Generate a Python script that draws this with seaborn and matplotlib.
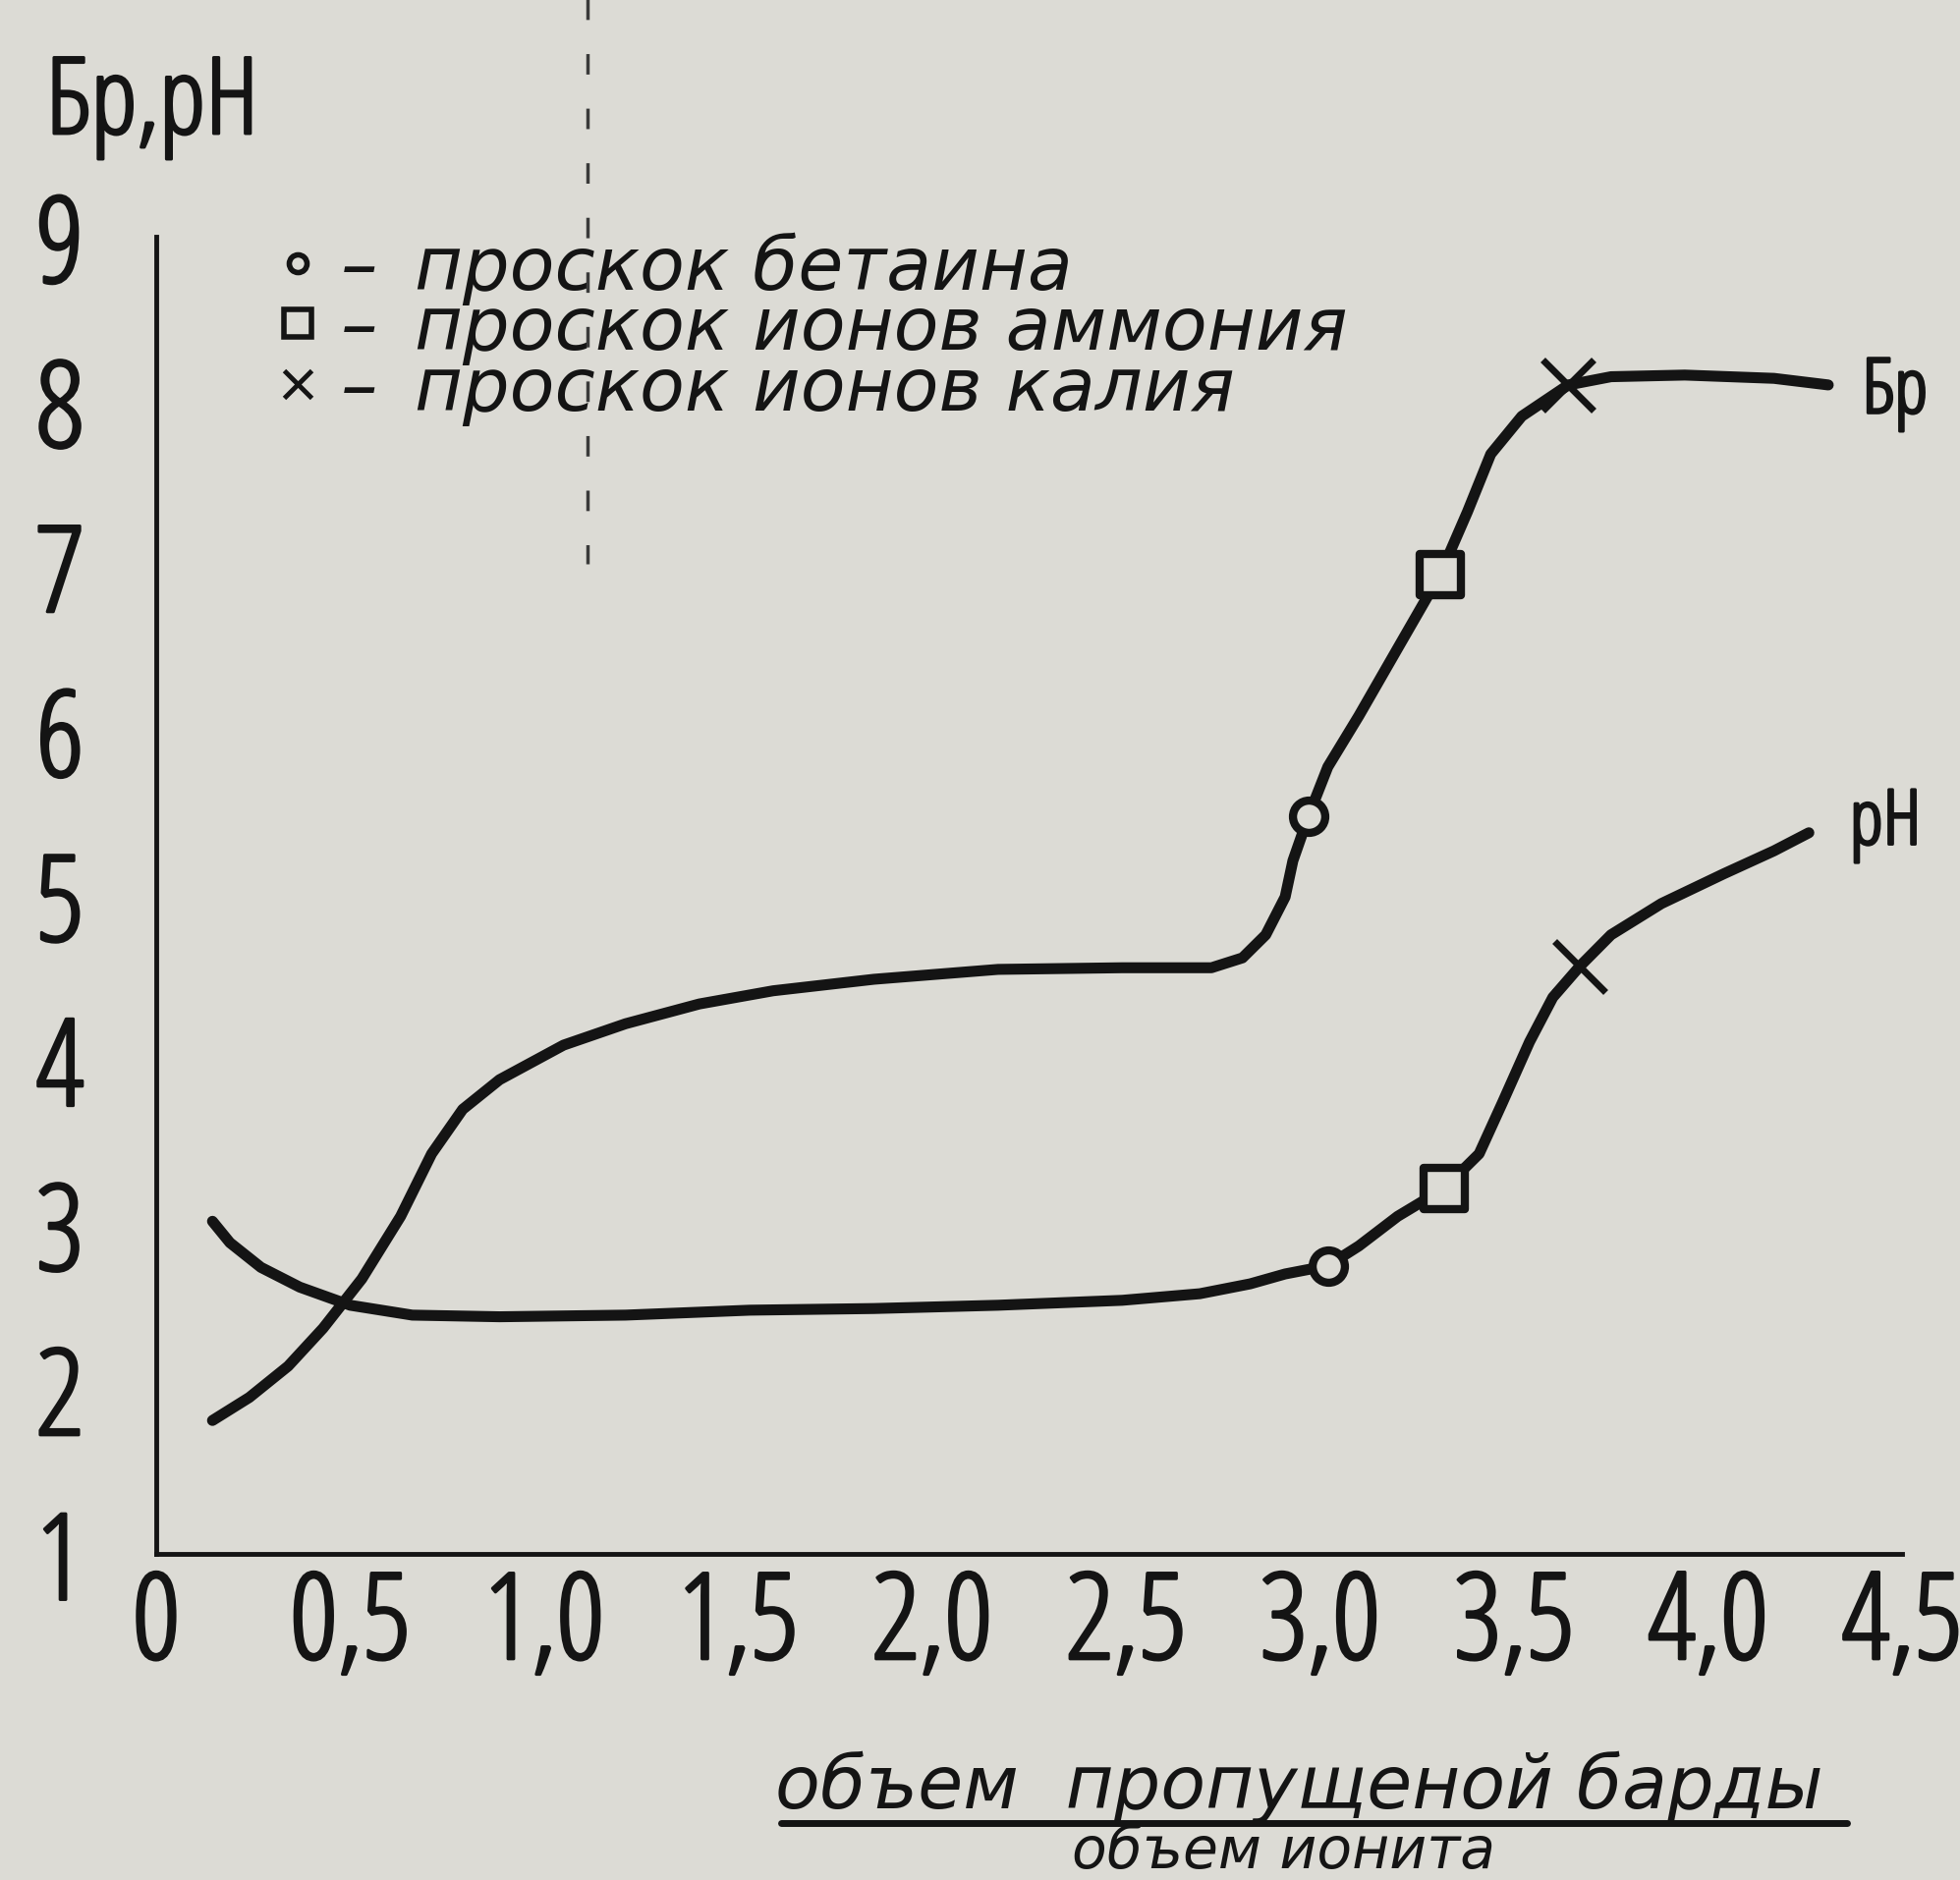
import matplotlib
matplotlib.use("Agg")
import matplotlib.pyplot as plt
import matplotlib.patheffects as pe
from matplotlib.lines import Line2D
from matplotlib.font_manager import FontProperties
import seaborn as sns
import pandas as pd

# ---------------- data ----------------
br_x = [0.145, 0.24, 0.34, 0.43, 0.53, 0.63, 0.71, 0.79, 0.885, 1.05, 1.21, 1.40, 1.59, 1.85,
        2.17, 2.49, 2.72, 2.80, 2.86, 2.91, 2.93, 2.97, 3.02, 3.10, 3.20, 3.31, 3.38, 3.44,
        3.52, 3.64, 3.75, 3.94, 4.17, 4.31]
br_y = [1.81, 1.95, 2.14, 2.37, 2.67, 3.05, 3.43, 3.70, 3.88, 4.09, 4.22, 4.34, 4.42, 4.49,
        4.55, 4.56, 4.56, 4.62, 4.76, 4.99, 5.21, 5.48, 5.78, 6.09, 6.50, 6.95, 7.33, 7.68,
        7.91, 8.10, 8.15, 8.16, 8.14, 8.10]

ph_x = [0.145, 0.19, 0.27, 0.37, 0.50, 0.66, 0.885, 1.21, 1.53, 1.85, 2.17, 2.49, 2.69, 2.82,
        2.91, 3.02, 3.10, 3.20, 3.32, 3.41, 3.47, 3.54, 3.60, 3.67, 3.75, 3.88, 4.04, 4.17, 4.26]
ph_y = [3.02, 2.89, 2.74, 2.62, 2.51, 2.45, 2.44, 2.45, 2.48, 2.49, 2.51, 2.54, 2.58, 2.64,
        2.70, 2.75, 2.87, 3.05, 3.22, 3.43, 3.74, 4.11, 4.38, 4.57, 4.76, 4.95, 5.13, 5.27, 5.38]

# breakthrough points: betaine (o), ammonium (square), potassium (x)
br_marker_x = [2.97, 3.31, 3.64]
br_marker_y = [5.48, 6.95, 8.10]
ph_marker_x = [3.02, 3.32, 3.67]
ph_marker_y = [2.75, 3.22, 4.57]
marker_kinds = ["бетаина", "аммония", "калия"]

x_ticks = [0, 0.5, 1.0, 1.5, 2.0, 2.5, 3.0, 3.5, 4.0, 4.5]
x_tick_labels = ["0", "0,5", "1,0", "1,5", "2,0", "2,5", "3,0", "3,5", "4,0", "4,5"]
y_ticks = [1, 2, 3, 4, 5, 6, 7, 8, 9]
y_tick_labels = ["1", "2", "3", "4", "5", "6", "7", "8", "9"]

legend_labels = ["–\u2002проскок бетаина", "–\u2002проскок ионов аммония",
                 "–\u2002проскок ионов калия"]

# ---------------- style ----------------
PAPER = "#dcdbd5"
INK = "#141414"
sns.set_theme(style="white")
plt.rcParams["font.family"] = ["Open Sans", "DejaVu Sans"]
plt.rcParams["axes.facecolor"] = PAPER
plt.rcParams["figure.facecolor"] = PAPER

COND = dict(family="Open Sans", stretch="condensed", weight="light")
ITAL = dict(family="DejaVu Sans", style="italic")
THICK = [pe.withStroke(linewidth=2.2, foreground=INK)]

fig = plt.figure(figsize=(19.95, 19.15), dpi=100)
ax = fig.add_axes([0.0797, 0.1734, 0.8907, 0.7002])
ax.set_facecolor(PAPER)

df_br = pd.DataFrame({"x": br_x, "y": br_y})
df_ph = pd.DataFrame({"x": ph_x, "y": ph_y})
for d in (df_br, df_ph):
    sns.lineplot(data=d, x="x", y="y", sort=False, estimator=None, color=INK,
                 linewidth=8, ax=ax, solid_capstyle="round", solid_joinstyle="round")

mk = {"бетаина": "o", "аммония": "s", "калия": "x"}
sizes = {"бетаина": 560, "аммония": 900, "калия": 1400}
for xs, ys in [(br_marker_x, br_marker_y), (ph_marker_x, ph_marker_y)]:
    for xv, yv, kind in zip(xs, ys, marker_kinds):
        d = pd.DataFrame({"x": [xv], "y": [yv]})
        if kind == "калия":
            sns.scatterplot(data=d, x="x", y="y", marker="x", s=sizes[kind], color=INK,
                            linewidth=5, ax=ax, zorder=5)
        else:
            sns.scatterplot(data=d, x="x", y="y", marker=mk[kind], s=sizes[kind],
                            facecolor=PAPER, edgecolor=INK, linewidth=6, ax=ax, zorder=5)

ax.set_xlim(0, 4.5)
ax.set_ylim(1, 9)
ax.set_xticks(x_ticks)
ax.set_xticklabels(x_tick_labels)
ax.set_yticks(y_ticks)
ax.set_yticklabels(y_tick_labels)
ax.set_xlabel("")
ax.set_ylabel("")
for s in ["top", "right"]:
    ax.spines[s].set_visible(False)
for s in ["left", "bottom"]:
    ax.spines[s].set_color(INK)
    ax.spines[s].set_linewidth(3.5)
ax.tick_params(axis="x", direction="out", length=24, width=3, color=INK, pad=-14)
ax.tick_params(axis="y", direction="out", length=20, width=3, color=INK, pad=33)
tick_fp = FontProperties(size=88, **COND)
for lab in ax.get_xticklabels() + ax.get_yticklabels():
    lab.set_fontproperties(tick_fp)
    lab.set_color(INK)
    lab.set_path_effects(THICK)

# curve labels
lab_fp = FontProperties(size=56, **COND)
for xv, yv, s in [(4.397, 8.05, "Бр"), (4.365, 5.43, "pH")]:
    ax.text(xv, yv, s, fontproperties=lab_fp, color=INK, va="center", ha="left",
            clip_on=False, path_effects=THICK)

# legend
handles = [
    Line2D([], [], marker="o", linestyle="none", markersize=13, markerfacecolor=PAPER,
           markeredgecolor=INK, markeredgewidth=4),
    Line2D([], [], marker="s", linestyle="none", markersize=20, markerfacecolor=PAPER,
           markeredgecolor=INK, markeredgewidth=4),
    Line2D([], [], marker="x", linestyle="none", markersize=20, color=INK,
           markeredgewidth=3.5),
]
leg = ax.legend(handles, legend_labels, loc="upper left", bbox_to_anchor=(0.0706, 1.004),
                frameon=False, prop=FontProperties(size=54, **ITAL),
                handletextpad=0.336, labelspacing=-0.155, handlelength=0.5,
                borderaxespad=0, borderpad=0)
for t in leg.get_texts():
    t.set_color(INK)

# axis titles
fig.text(0.0777, 0.943, "Бр,pH", fontproperties=FontProperties(size=78, **COND), color=INK,
         ha="center", va="center", path_effects=THICK)
fig.text(0.663, 0.0495, "объем  пропущеной барды", fontproperties=FontProperties(size=54, **ITAL),
         color=INK, ha="center", va="center")
fig.add_artist(Line2D([0.3985, 0.9424], [0.0305, 0.0305], color=INK, linewidth=5))
fig.text(0.655, 0.007, "объем ионита", fontproperties=FontProperties(size=42, **ITAL),
         color=INK, ha="center", va="baseline")

# fold/scan mark at the top
fig.add_artist(Line2D([0.2997, 0.2997], [1.0, 0.70], color="#3a3a3a", linewidth=2.5,
                      linestyle=(0, (6, 10))))

fig.savefig("out.png", dpi=100, facecolor=PAPER)
